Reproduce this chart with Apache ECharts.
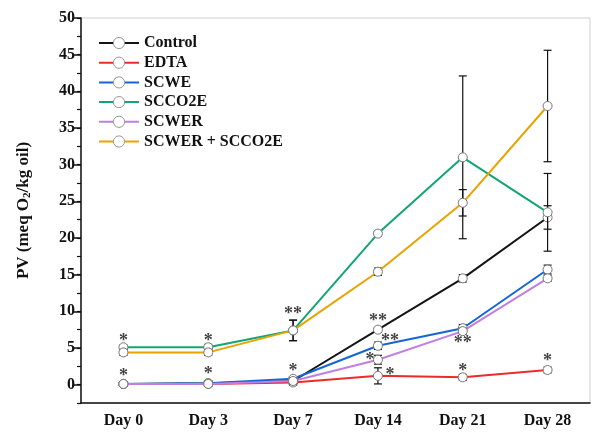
<!DOCTYPE html>
<html><head><meta charset="utf-8">
<script src="https://cdn.jsdelivr.net/npm/echarts@6/dist/echarts.min.js"></script>
<style>html,body{margin:0;padding:0;background:#fff}#c{width:592px;height:436px}</style>
</head><body><div id="c"></div>
<script>
const categories = ['Day 0', 'Day 3', 'Day 7', 'Day 14', 'Day 21', 'Day 28'];
const seriesNames = ['Control', 'EDTA', 'SCWE', 'SCCO2E', 'SCWER', 'SCWER + SCCO2E'];
const control      = [0.1, 0.2, 0.5, 7.5, 14.5, 22.8];
const controlErr   = [0.3, 0.3, 0.6, 0.3, 0.5, 1.6];
const edta         = [0.1, 0.1, 0.3, 1.2, 1.0, 2.0];
const edtaErr      = [0.3, 0.3, 0.3, 1.1, 0.4, 0.4];
const scwe         = [0.1, 0.2, 0.8, 5.3, 7.7, 15.7];
const scweErr      = [0.3, 0.3, 0.3, 0.5, 0.5, 0.6];
const scco2e       = [5.1, 5.1, 7.4, 20.6, 31.0, 23.5];
const scco2eErr    = [0.3, 0.4, 1.4, 0.3, 11.1, 5.3];
const scwer        = [0.1, 0.1, 0.5, 3.4, 7.3, 14.5];
const scwerErr     = [0.3, 0.3, 0.4, 0.6, 0.4, 0.4];
const combo        = [4.4, 4.4, 7.4, 15.4, 24.8, 38.0];
const comboErr     = [0.4, 0.4, 1.4, 0.5, 1.8, 7.6];
const yTicks = [0, 5, 10, 15, 20, 25, 30, 35, 40, 45, 50];
// significance marks: [day, value, text, side]
const stars = [
  ['Day 0', 6.5, '*', 'c'], ['Day 0', 1.7, '*', 'c'],
  ['Day 3', 6.5, '*', 'c'], ['Day 3', 1.9, '*', 'c'],
  ['Day 7', 10.2, '**', 'c'], ['Day 7', 2.4, '*', 'c'],
  ['Day 14', 9.2, '**', 'c'], ['Day 14', 6.5, '**', 'r'], ['Day 14', 3.9, '*', 'l'], ['Day 14', 1.8, '*', 'r'],
  ['Day 21', 6.2, '**', 'c'], ['Day 21', 2.4, '*', 'c'],
  ['Day 28', 3.7, '*', 'c']
];

const means = [control, edta, scwe, scco2e, scwer, combo];
const errs = [controlErr, edtaErr, scweErr, scco2eErr, scwerErr, comboErr];
const colors = ['#141414', '#ec2b2b', '#1566d4', '#12a672', '#c27ee0', '#e8a300'];
const FONT = 'Liberation Serif, Times New Roman, serif';
const yMin = -2.5, yMax = 50, yStep = 2.5;
const yCats = [];
for (let v = yMin; v <= yMax + 1e-9; v += yStep) yCats.push(String(+v.toFixed(1)));
const isMajor = (i) => yTicks.includes(+yCats[i]);

const series = [];
means.forEach((m, k) => {
  series.push({
    type: 'custom', name: seriesNames[k] + ' err', z: 10 + 2 * k, silent: true,
    data: m.map((v, i) => [i, v, errs[k][i]]),
    encode: { x: 0, y: 1 },
    renderItem: function (params, api) {
      const x = api.value(0), v = api.value(1), e = api.value(2);
      const t = api.coord([x, v + e]), b = api.coord([x, v - e]);
      const hw = 4, st = { stroke: '#111', lineWidth: 1.2 };
      return { type: 'group', children: [
        { type: 'line', shape: { x1: t[0], y1: t[1], x2: b[0], y2: b[1] }, style: st },
        { type: 'line', shape: { x1: t[0] - hw, y1: t[1], x2: t[0] + hw, y2: t[1] }, style: st },
        { type: 'line', shape: { x1: b[0] - hw, y1: b[1], x2: b[0] + hw, y2: b[1] }, style: st }
      ] };
    }
  });
  series.push({
    type: 'line', name: seriesNames[k], z: 11 + 2 * k, data: m,
    symbol: 'circle', symbolSize: 9, showAllSymbol: true,
    lineStyle: { color: colors[k], width: 2 },
    itemStyle: { color: '#fff', borderColor: '#777', borderWidth: 1 }
  });
});
const sideOffset = { c: 0, r: 12, l: -8 };
series.push({
  type: 'scatter', name: 'sig', z: 30, symbolSize: 1, itemStyle: { color: 'rgba(0,0,0,0)' },
  data: stars.map(s => ({
    value: [s[0], s[1]],
    label: { show: true, formatter: s[2], position: 'inside', offset: [sideOffset[s[3]], 4],
      fontFamily: FONT, fontWeight: 'bold', fontSize: 18, color: '#111' }
  }))
});

const chart = echarts.init(document.getElementById('c'), null, { renderer: 'canvas' });
chart.setOption({
  animation: false,
  backgroundColor: '#fff',
  grid: { left: 81, right: 2, top: 18, bottom: 33, show: true, borderColor: '#cfcfcf', borderWidth: 1 },
  legend: {
    data: seriesNames, orient: 'vertical', left: 93, top: 30,
    itemWidth: 40, itemHeight: 14, itemGap: 3.7,
    itemStyle: { color: '#fff', borderColor: '#999', borderWidth: 1 },
    textStyle: { fontFamily: FONT, fontWeight: 'bold', fontSize: 16, color: '#111', lineHeight: 16 }
  },
  xAxis: {
    type: 'category', data: categories, boundaryGap: true,
    axisLine: { onZero: false, lineStyle: { color: '#111', width: 1.5 } },
    axisTick: { alignWithLabel: true, length: 6, lineStyle: { color: '#111', width: 1.5 } },
    axisLabel: { fontFamily: FONT, fontWeight: 'bold', fontSize: 16, color: '#111', margin: 10 }
  },
  yAxis: [{
    type: 'value', min: yMin, max: yMax, interval: yStep, position: 'left',
    splitLine: { show: false },
    axisLine: { show: true, onZero: false, lineStyle: { color: '#111', width: 1.5 } },
    axisTick: { show: true, length: 4, lineStyle: { color: '#111', width: 1.2 } },
    axisLabel: { show: false },
    name: 'PV (meq O{sub|2}/kg oil)', nameLocation: 'middle', nameGap: 48,
    nameTextStyle: { fontFamily: FONT, fontWeight: 'bold', fontSize: 17, color: '#111',
      rich: { sub: { fontFamily: FONT, fontWeight: 'bold', fontSize: 11, color: '#111', verticalAlign: 'bottom', padding: [8, 0, 0, 0] } } }
  }, {
    type: 'category', data: yCats, boundaryGap: false, position: 'left',
    axisLine: { show: false },
    axisTick: { show: true, length: 7, interval: (i) => isMajor(i), lineStyle: { color: '#111', width: 1.5 } },
    axisLabel: { interval: (i) => isMajor(i), fontFamily: FONT, fontWeight: 'bold', fontSize: 16, color: '#111', margin: 6 },
    splitLine: { show: false }
  }],
  series: series
});
</script></body></html>
